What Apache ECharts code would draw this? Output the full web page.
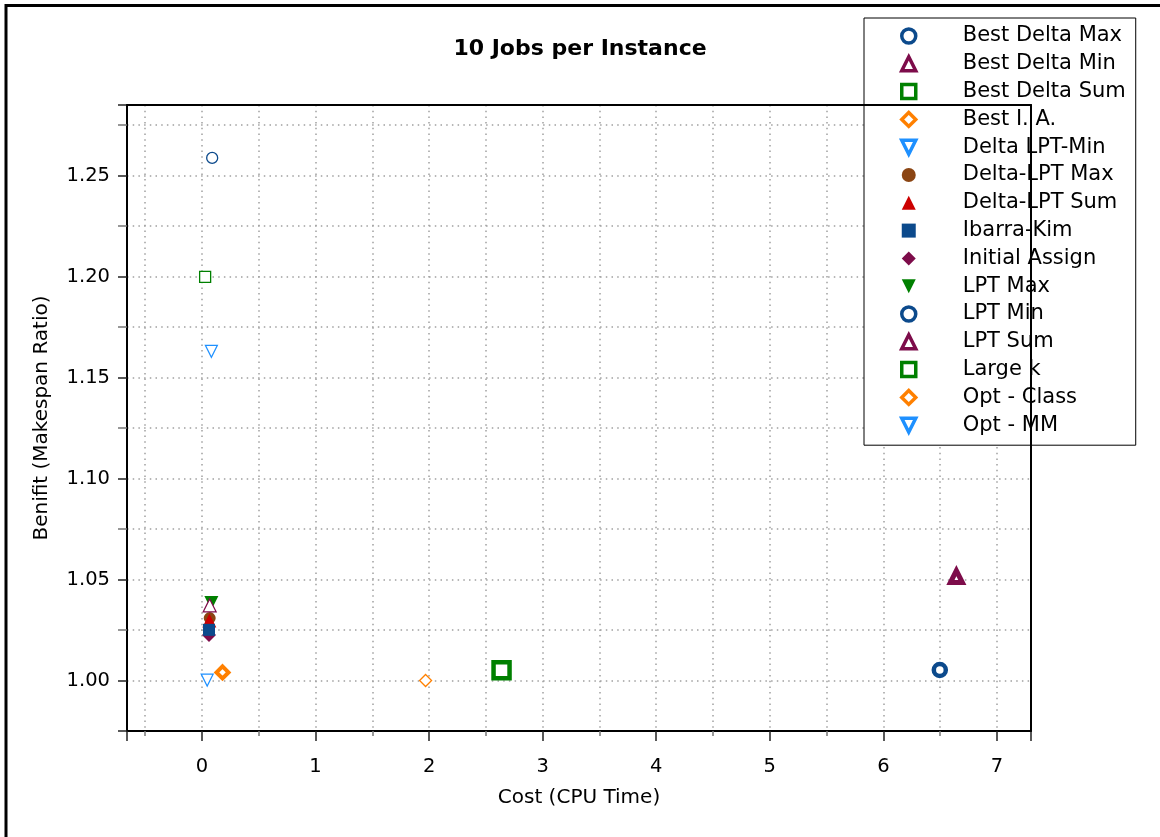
<!DOCTYPE html>
<html>
<head>
<meta charset="utf-8">
<script src="https://cdn.jsdelivr.net/npm/echarts@6/dist/echarts.min.js"></script>
<style>
html,body{margin:0;padding:0;background:#fff;}
#chart{width:1160px;height:837px;}
</style>
</head>
<body>
<div id="chart"></div>
<script>
// ---- data ----
const seriesNames = ['Best Delta Max','Best Delta Min','Best Delta Sum','Best I. A.','Delta LPT-Min',
  'Delta-LPT Max','Delta-LPT Sum','Ibarra-Kim','Initial Assign','LPT Max','LPT Min','LPT Sum',
  'Large k','Opt - Class','Opt - MM'];
const costValues    = [6.497, 6.643, 2.638, 0.181, 0.083, 0.068, 0.065, 0.062, 0.062, 0.083, 0.090, 0.068, 0.028, 1.969, 0.046];
const benefitValues = [1.0052, 1.0515, 1.0051, 1.0040, 1.1630, 1.0309, 1.0297, 1.0251, 1.0225, 1.0384, 1.2588, 1.0372, 1.1999, 1.0000, 1.0002];
const xTickLabels = ['0','1','2','3','4','5','6','7'];
const yTickLabels = ['1.00','1.05','1.10','1.15','1.20','1.25'];

// ---- styles ----
const C = {blue:'#0c4a8c', maroon:'#7d0c4a', green:'#008000', orange:'#ff8000', sky:'#1e90ff', brown:'#8b4513', red:'#cc0000'};
const TRI_DOWN = 'path://M0,0L10,0L5,10Z';
const markerStyles = [
  {symbol:'circle',   size:12, color:C.blue,   hollow:true, bw:4.5},
  {symbol:'triangle', size:12, color:C.maroon, hollow:true, bw:5},
  {symbol:'rect',     size:16, color:C.green,  hollow:true, bw:4.5},
  {symbol:'diamond',  size:12, color:C.orange, hollow:true, bw:4},
  {symbol:TRI_DOWN,   size:12, color:C.sky,    hollow:true, bw:1.2},
  {symbol:'circle',   size:12, color:C.brown},
  {symbol:'triangle', size:14, color:C.red},
  {symbol:'rect',     size:12, color:C.blue, z:5},
  {symbol:'diamond',  size:14, color:C.maroon, z:1},
  {symbol:TRI_DOWN,   size:14, color:C.green},
  {symbol:'circle',   size:11, color:C.blue,   hollow:true, bw:1.3},
  {symbol:'triangle', size:13, color:C.maroon, hollow:true, bw:1.2},
  {symbol:'rect',     size:11, color:C.green,  hollow:true, bw:1.3},
  {symbol:'diamond',  size:12, color:C.orange, hollow:true, bw:1.3},
  {symbol:TRI_DOWN,   size:12, color:C.sky,    hollow:true, bw:1.2}
];
const legendStyles = [
  {icon:'circle', color:C.blue, hollow:true},
  {icon:'triangle', color:C.maroon, hollow:true},
  {icon:'rect', color:C.green, hollow:true},
  {icon:'diamond', color:C.orange, hollow:true},
  {icon:TRI_DOWN, color:C.sky, hollow:true},
  {icon:'circle', color:C.brown},
  {icon:'triangle', color:C.red},
  {icon:'rect', color:C.blue},
  {icon:'diamond', color:C.maroon},
  {icon:TRI_DOWN, color:C.green},
  {icon:'circle', color:C.blue, hollow:true},
  {icon:'triangle', color:C.maroon, hollow:true},
  {icon:'rect', color:C.green, hollow:true},
  {icon:'diamond', color:C.orange, hollow:true},
  {icon:TRI_DOWN, color:C.sky, hollow:true}
];

const FONT = 'DejaVu Sans';
const gridLine = {show:true, lineStyle:{color:'#a0a0a0', width:1.5, type:[1.5,4.2]}};

function near(v, step){ return Math.abs(v/step - Math.round(v/step)) < 1e-6; }

const series = seriesNames.map((name, i) => {
  const s = markerStyles[i];
  return {
    name: name,
    type: 'scatter',
    z: s.z != null ? s.z : 2,
    symbol: s.symbol,
    symbolSize: s.size,
    data: [[costValues[i], benefitValues[i]]],
    itemStyle: s.hollow
      ? {color:'#fff', borderColor:s.color, borderWidth:s.bw, opacity:1}
      : {color:s.color, borderWidth:0, opacity:1},
    emphasis: {disabled:true}
  };
});

const legendData = seriesNames.map((name, i) => {
  const l = legendStyles[i];
  return {
    name: name,
    icon: l.icon,
    itemStyle: l.hollow
      ? {color:'#fff', borderColor:l.color, borderWidth:3.5, opacity:1}
      : {color:l.color, borderColor:l.color, borderWidth:0, opacity:1}
  };
});

const frameAxis = {
  axisLine: {show:true, onZero:false, lineStyle:{color:'#000', width:2}},
  axisTick: {show:false}, axisLabel: {show:false}, splitLine: {show:false}
};

const chart = echarts.init(document.getElementById('chart'), null, {renderer:'canvas'});
chart.setOption({
  animation: false,
  backgroundColor: '#fff',
  title: {
    text: '10 Jobs per Instance',
    left: 'center',
    top: 33,
    textStyle: {fontFamily:FONT, fontSize:22, fontWeight:'bold', color:'#000'}
  },
  legend: {
    orient: 'vertical',
    left: 864,
    top: 18,
    align: 'left',
    padding: [7, 10, 9, 36],
    itemWidth: 14,
    itemHeight: 14,
    itemGap: 5.8,
    selectedMode: false,
    borderColor: '#000',
    borderWidth: 1,
    backgroundColor: '#fff',
    textStyle: {fontFamily:FONT, fontSize:21, color:'#000', lineHeight:22, padding:[0,0,0,42]},
    data: legendData
  },
  grid: {
    left: 127, right: 129, top: 105, bottom: 106,
    show: false
  },
  xAxis: [{
    type: 'value',
    min: -0.66, max: 7.30,
    minInterval: 1, maxInterval: 1,
    name: 'Cost (CPU Time)',
    nameLocation: 'middle',
    nameGap: 57,
    nameTextStyle: {fontFamily:FONT, fontSize:20, color:'#000'},
    axisLine: {show:true, onZero:false, lineStyle:{color:'#000', width:2}},
    axisTick: {show:true, inside:false, length:10, lineStyle:{color:'#222', width:1.5}},
    minorTick: {show:true, splitNumber:2, length:5, lineStyle:{color:'#777', width:1.5}},
    axisLabel: {
      margin: 26, fontFamily:FONT, fontSize:19.5, color:'#000',
      formatter: v => { const s = String(Math.round(v)); return (near(v,1) && xTickLabels.includes(s)) ? s : ''; }
    },
    splitLine: gridLine,
    minorSplitLine: gridLine
  }, Object.assign({type:'value', position:'top', min:-0.66, max:7.30, z:10}, frameAxis)],
  yAxis: [{
    type: 'value',
    min: 0.975, max: 1.285,
    minInterval: 0.05, maxInterval: 0.05,
    name: 'Benifit (Makespan Ratio)',
    nameLocation: 'middle',
    nameGap: 75,
    nameTextStyle: {fontFamily:FONT, fontSize:20, color:'#000'},
    axisLine: {show:true, onZero:false, lineStyle:{color:'#000', width:2}},
    axisTick: {show:true, inside:false, length:9, lineStyle:{color:'#222', width:1.5}},
    minorTick: {show:true, splitNumber:2, length:9, lineStyle:{color:'#777', width:1.5}},
    axisLabel: {
      margin: 17, fontFamily:FONT, fontSize:19.5, color:'#000',
      formatter: v => { const s = v.toFixed(2); return (near(v,0.05) && yTickLabels.includes(s)) ? s : ''; }
    },
    splitLine: gridLine,
    minorSplitLine: gridLine
  }, Object.assign({type:'value', position:'right', min:0.975, max:1.285, z:10}, frameAxis)],
  graphic: [{
    type: 'rect', silent: true, z: 100,
    shape: {x: 6, y: 5.5, width: 1400, height: 1000},
    style: {fill: null, stroke: '#000', lineWidth: 3}
  }],
  series: series
});
</script>
</body>
</html>
